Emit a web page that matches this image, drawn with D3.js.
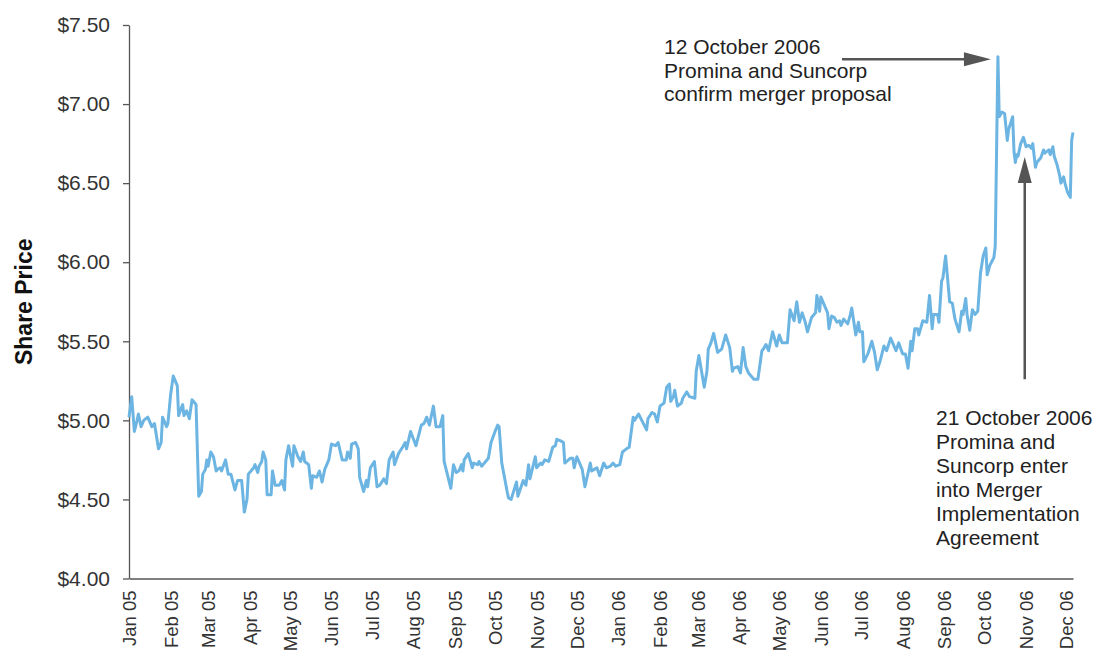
<!DOCTYPE html>
<html>
<head>
<meta charset="utf-8">
<script src="https://cdn.jsdelivr.net/npm/d3@7"></script>
<style>
  body { margin: 0; background: #fff; }
  svg text { font-family: "Liberation Sans", Arial, sans-serif; }
</style>
</head>
<body>
<svg id="chart" width="1097" height="651"></svg>
<script>
  // share price readings, 2005
  var dates05 = [
    "2005-01-01","2005-01-03","2005-01-05","2005-01-07","2005-01-08","2005-01-10","2005-01-12","2005-01-15",
    "2005-01-18","2005-01-20","2005-01-23","2005-01-25","2005-01-26","2005-01-29","2005-01-30","2005-02-01",
    "2005-02-03","2005-02-06","2005-02-07","2005-02-10","2005-02-11","2005-02-13","2005-02-15","2005-02-17",
    "2005-02-20","2005-02-22","2005-02-24","2005-02-25","2005-02-27","2005-02-28","2005-03-01","2005-03-03",
    "2005-03-05","2005-03-07","2005-03-08","2005-03-10","2005-03-11","2005-03-14","2005-03-16","2005-03-18",
    "2005-03-21","2005-03-23","2005-03-26","2005-03-28","2005-03-30","2005-03-31","2005-04-04","2005-04-05",
    "2005-04-07","2005-04-08","2005-04-10","2005-04-11","2005-04-13","2005-04-14","2005-04-17","2005-04-18",
    "2005-04-20","2005-04-23","2005-04-25","2005-04-27","2005-04-28","2005-04-30","2005-05-03","2005-05-04",
    "2005-05-07","2005-05-09","2005-05-11","2005-05-12","2005-05-15","2005-05-17","2005-05-18","2005-05-21",
    "2005-05-23","2005-05-25","2005-05-27","2005-05-30","2005-06-01","2005-06-04","2005-06-06","2005-06-09",
    "2005-06-12","2005-06-13","2005-06-15","2005-06-16","2005-06-19","2005-06-21","2005-06-22","2005-06-25",
    "2005-06-27","2005-06-28","2005-06-30","2005-07-03","2005-07-05","2005-07-07","2005-07-10","2005-07-12",
    "2005-07-14","2005-07-17","2005-07-18","2005-07-21","2005-07-24","2005-07-26","2005-07-27","2005-07-30",
    "2005-08-03","2005-08-07","2005-08-09","2005-08-11","2005-08-13","2005-08-16","2005-08-18","2005-08-21",
    "2005-08-23","2005-08-24","2005-08-29","2005-08-31","2005-09-02","2005-09-04","2005-09-06","2005-09-07",
    "2005-09-08","2005-09-11","2005-09-14","2005-09-15","2005-09-18","2005-09-19","2005-09-21","2005-09-24",
    "2005-09-26","2005-09-28","2005-10-01","2005-10-03","2005-10-04","2005-10-06","2005-10-10","2005-10-11",
    "2005-10-13","2005-10-17","2005-10-18","2005-10-22","2005-10-24","2005-10-26","2005-10-27","2005-10-31",
    "2005-11-01","2005-11-04","2005-11-05","2005-11-07","2005-11-10","2005-11-13","2005-11-15","2005-11-16",
    "2005-11-19","2005-11-21","2005-11-22","2005-11-26","2005-11-28","2005-11-29","2005-12-01","2005-12-05",
    "2005-12-07","2005-12-11","2005-12-12","2005-12-14","2005-12-16","2005-12-18","2005-12-21","2005-12-23",
    "2005-12-26","2005-12-28","2005-12-30"
  ];
  var prices05 = [
    5.02,5.15,4.93,5.00,5.04,4.96,5.00,5.02,
    4.96,4.98,4.82,4.86,5.02,4.96,4.98,5.16,
    5.28,5.22,5.03,5.10,5.03,5.06,5.01,5.13,
    5.10,4.52,4.55,4.66,4.69,4.75,4.71,4.80,
    4.77,4.68,4.69,4.70,4.68,4.75,4.66,4.66,
    4.56,4.62,4.62,4.42,4.50,4.66,4.70,4.72,
    4.67,4.71,4.74,4.80,4.75,4.53,4.53,4.68,
    4.59,4.59,4.62,4.56,4.75,4.84,4.71,4.84,
    4.77,4.74,4.80,4.74,4.72,4.57,4.65,4.64,
    4.68,4.61,4.69,4.75,4.85,4.84,4.86,4.75,
    4.75,4.80,4.76,4.85,4.86,4.82,4.64,4.55,
    4.62,4.58,4.70,4.74,4.58,4.59,4.63,4.60,
    4.75,4.80,4.72,4.79,4.83,4.86,4.82,4.93,
    4.84,4.97,4.98,5.02,4.97,5.09,4.96,4.96,
    5.03,4.74,4.57,4.72,4.67,4.68,4.72,4.68,
    4.75,4.79,4.70,4.73,4.72,4.74,4.71,4.74,
    4.76,4.86,4.93,4.97,4.96,4.73,4.55,4.51,
    4.50,4.61,4.52,4.62,4.59,4.72,4.63,4.77,
    4.70,4.73,4.72,4.75,4.74,4.83,4.84,4.88,
    4.87,4.86,4.73,4.76,4.76,4.70,4.77,4.69,
    4.58,4.73,4.68,4.69,4.70,4.65,4.73,4.70,
    4.71,4.73,4.71
  ];

  // share price readings, 2006
  var dates06 = [
    "2006-01-02","2006-01-04","2006-01-07","2006-01-09","2006-01-12","2006-01-13","2006-01-16","2006-01-19",
    "2006-01-22","2006-01-23","2006-01-26","2006-01-28","2006-01-30","2006-02-01","2006-02-04","2006-02-06",
    "2006-02-08","2006-02-09","2006-02-11","2006-02-12","2006-02-14","2006-02-17","2006-02-18","2006-02-21",
    "2006-02-23","2006-02-27","2006-02-28","2006-03-02","2006-03-03","2006-03-06","2006-03-08","2006-03-09",
    "2006-03-11","2006-03-13","2006-03-16","2006-03-19","2006-03-22","2006-03-25","2006-03-27","2006-03-28",
    "2006-03-31","2006-04-02","2006-04-04","2006-04-06","2006-04-08","2006-04-12","2006-04-15","2006-04-18",
    "2006-04-19","2006-04-21","2006-04-23","2006-04-26","2006-04-29","2006-05-01","2006-05-03","2006-05-07",
    "2006-05-09","2006-05-12","2006-05-14","2006-05-16","2006-05-18","2006-05-20","2006-05-22","2006-05-25",
    "2006-05-28","2006-05-29","2006-05-31","2006-06-01","2006-06-03","2006-06-06","2006-06-07","2006-06-09",
    "2006-06-11","2006-06-13","2006-06-15","2006-06-16","2006-06-18","2006-06-21","2006-06-23","2006-06-24",
    "2006-06-27","2006-06-29","2006-06-30","2006-07-02","2006-07-03","2006-07-06","2006-07-09","2006-07-11",
    "2006-07-13","2006-07-15","2006-07-18","2006-07-20","2006-07-23","2006-07-25","2006-07-27","2006-07-29",
    "2006-08-01","2006-08-03","2006-08-05","2006-08-07","2006-08-08","2006-08-10","2006-08-12","2006-08-13",
    "2006-08-16","2006-08-19","2006-08-21","2006-08-23","2006-08-24","2006-08-27","2006-08-28","2006-08-30",
    "2006-08-31","2006-09-02","2006-09-05","2006-09-07","2006-09-09","2006-09-12","2006-09-14","2006-09-15",
    "2006-09-17","2006-09-18","2006-09-20","2006-09-22","2006-09-24","2006-09-26","2006-09-28","2006-09-30",
    "2006-10-02","2006-10-03","2006-10-05","2006-10-08","2006-10-09","2006-10-10","2006-10-11","2006-10-12",
    "2006-10-14","2006-10-16","2006-10-18","2006-10-19","2006-10-22","2006-10-23","2006-10-24","2006-10-25",
    "2006-10-26","2006-10-28","2006-10-30","2006-11-01","2006-11-03","2006-11-05","2006-11-06","2006-11-08",
    "2006-11-09","2006-11-12","2006-11-14","2006-11-15","2006-11-18","2006-11-19","2006-11-21","2006-11-22",
    "2006-11-24","2006-11-26","2006-11-27","2006-11-29","2006-11-30","2006-12-02","2006-12-04","2006-12-05",
    "2006-12-06"
  ];
  var prices06 = [
    4.72,4.80,4.82,4.83,5.02,5.00,5.04,4.99,
    4.94,5.01,5.05,5.04,4.99,5.09,5.11,5.21,
    5.23,5.12,5.15,5.19,5.09,5.11,5.14,5.18,
    5.15,5.14,5.31,5.41,5.36,5.21,5.31,5.45,
    5.49,5.55,5.43,5.45,5.54,5.46,5.31,5.33,
    5.34,5.30,5.46,5.34,5.30,5.26,5.26,5.44,
    5.45,5.48,5.44,5.56,5.47,5.54,5.49,5.49,
    5.70,5.63,5.75,5.62,5.68,5.63,5.56,5.65,
    5.68,5.79,5.69,5.78,5.74,5.68,5.58,5.66,
    5.65,5.62,5.63,5.60,5.64,5.61,5.67,5.71,
    5.54,5.62,5.56,5.56,5.37,5.42,5.50,5.43,
    5.32,5.37,5.47,5.44,5.52,5.48,5.44,5.49,
    5.42,5.42,5.33,5.50,5.44,5.58,5.58,5.54,
    5.63,5.62,5.79,5.58,5.67,5.67,5.62,5.88,
    5.90,6.04,5.75,5.74,5.64,5.56,5.69,5.67,
    5.77,5.67,5.57,5.70,5.67,5.69,5.93,6.04,
    6.09,5.92,5.98,6.03,6.10,6.70,7.30,6.92,
    6.95,6.94,6.77,6.84,6.92,6.70,6.63,6.68,
    6.67,6.75,6.79,6.73,6.74,6.72,6.75,6.60,
    6.63,6.66,6.71,6.69,6.71,6.68,6.73,6.67,
    6.62,6.55,6.50,6.54,6.50,6.44,6.41,6.77,
    6.82
  ];

  var yTicks = [4.0, 4.5, 5.0, 5.5, 6.0, 6.5, 7.0, 7.5];
  var note1 = ["12 October 2006", "Promina and Suncorp", "confirm merger proposal"];
  var note2 = ["21 October 2006", "Promina and", "Suncorp enter", "into Merger", "Implementation", "Agreement"];

  var parse = d3.timeParse("%Y-%m-%d");
  var prices = prices05.concat(prices06);
  var data = dates05.concat(dates06).map(function(d, i) {
    return { date: parse(d), price: prices[i] };
  });

  var margin = { top: 25, right: 24, bottom: 72, left: 129 };
  var W = 1097, H = 651;
  var svg = d3.select("#chart");

  var x = d3.scaleTime()
    .domain([parse("2005-01-01"), parse("2006-12-06")])
    .range([margin.left, W - margin.right]);
  var y = d3.scaleLinear()
    .domain([4, 7.5])
    .range([H - margin.bottom - 0.5, margin.top]);

  var axisColor = "#555";

  // y axis
  var gy = svg.append("g")
    .attr("transform", "translate(" + margin.left + ",0)")
    .call(d3.axisLeft(y).tickValues(yTicks).tickFormat(d3.format("$.2f"))
      .tickSizeInner(6).tickSizeOuter(0).tickPadding(13));
  gy.select(".domain").attr("stroke", axisColor).attr("stroke-width", 1.3);
  gy.selectAll(".tick line").attr("stroke", axisColor).attr("stroke-width", 1.3);
  gy.selectAll(".tick text")
    .attr("fill", "#333")
    .style("font-size", "21px")
    .style("font-family", "'Liberation Sans', Arial, sans-serif");

  // x axis
  var gx = svg.append("g")
    .attr("transform", "translate(0," + y(4) + ")")
    .call(d3.axisBottom(x).ticks(d3.timeMonth.every(1)).tickFormat(d3.timeFormat("%b %y"))
      .tickSize(0));
  gx.select(".domain").attr("stroke", axisColor).attr("stroke-width", 1.3);
  gx.selectAll(".tick text")
    .attr("fill", "#333")
    .style("font-size", "18.5px")
    .style("font-family", "'Liberation Sans', Arial, sans-serif")
    .style("text-anchor", "end")
    .attr("transform", "rotate(-90)")
    .attr("x", -12)
    .attr("y", 0)
    .attr("dy", "0.35em");

  // axis title
  svg.append("text")
    .attr("transform", "translate(32," + ((margin.top + y(4)) / 2) + ") rotate(-90)")
    .attr("text-anchor", "middle")
    .attr("fill", "#111")
    .style("font-weight", "bold")
    .style("font-size", "23px")
    .text("Share Price");

  // price line
  var line = d3.line()
    .x(function(d) { return x(d.date); })
    .y(function(d) { return y(d.price); });

  svg.append("path")
    .datum(data)
    .attr("fill", "none")
    .attr("stroke", "#6cb5e3")
    .attr("stroke-width", 3)
    .attr("stroke-linejoin", "round")
    .attr("d", line);

  // annotations
  var arrowColor = "#555";
  var peakX = x(parse("2006-10-11"));
  var peakY = y(7.30);

  var ax1 = peakX - 7, ay1 = peakY + 2.5;
  svg.append("line")
    .attr("x1", 842).attr("x2", ax1 - 20)
    .attr("y1", ay1).attr("y2", ay1)
    .attr("stroke", arrowColor).attr("stroke-width", 2.5);
  svg.append("path")
    .attr("d", "M" + ax1 + "," + ay1 + " L" + (ax1 - 27) + "," + (ay1 - 7) +
               " L" + (ax1 - 27) + "," + (ay1 + 7) + " Z")
    .attr("fill", arrowColor);

  var ax2 = x(parse("2006-10-31")), ay2 = y(6.665), ayEnd = y(5.26);
  svg.append("line")
    .attr("x1", ax2).attr("x2", ax2)
    .attr("y1", ay2 + 20).attr("y2", ayEnd)
    .attr("stroke", arrowColor).attr("stroke-width", 2.5);
  svg.append("path")
    .attr("d", "M" + ax2 + "," + ay2 + " L" + (ax2 - 7) + "," + (ay2 + 26) +
               " L" + (ax2 + 7) + "," + (ay2 + 26) + " Z")
    .attr("fill", arrowColor);

  svg.append("text")
    .attr("x", 664).attr("y", 54)
    .attr("fill", "#222")
    .style("font-size", "21px")
    .selectAll("tspan")
    .data(note1)
    .enter().append("tspan")
      .attr("x", 664)
      .attr("dy", function(d, i) { return i === 0 ? 0 : 23.5; })
      .text(function(d) { return d; });

  svg.append("text")
    .attr("x", 936).attr("y", 425)
    .attr("fill", "#222")
    .style("font-size", "21px")
    .selectAll("tspan")
    .data(note2)
    .enter().append("tspan")
      .attr("x", 936)
      .attr("dy", function(d, i) { return i === 0 ? 0 : 24; })
      .text(function(d) { return d; });
</script>
</body>
</html>
